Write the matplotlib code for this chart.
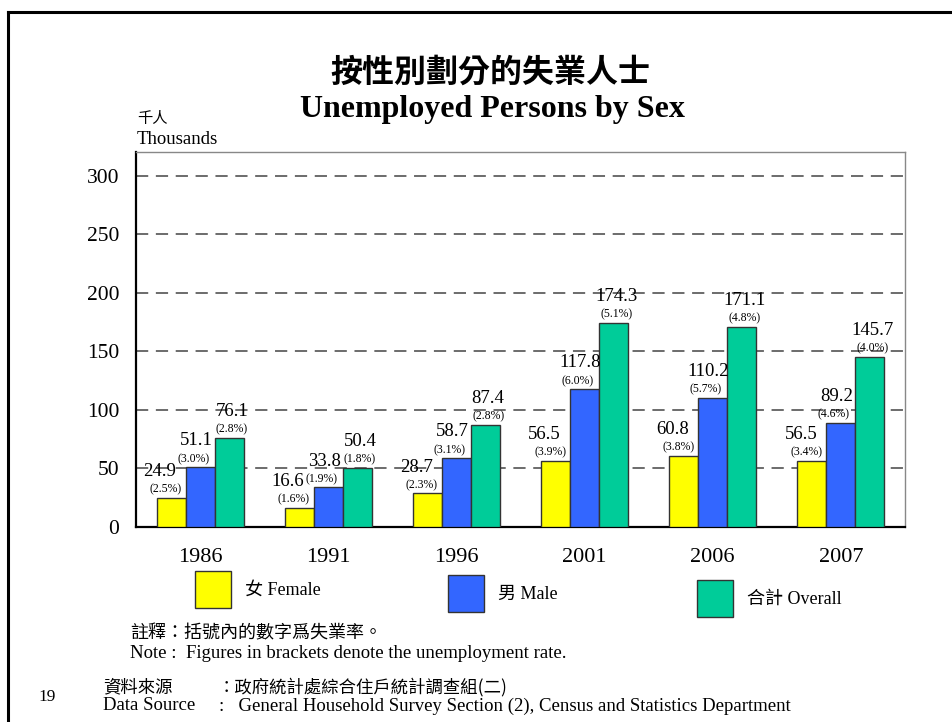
import numpy as np
import matplotlib
matplotlib.use("Agg")
import matplotlib.pyplot as plt
from matplotlib.patches import Rectangle
from matplotlib.lines import Line2D

# data
years = ["1986", "1991", "1996", "2001", "2006", "2007"]
female = [24.9, 16.6, 28.7, 56.5, 60.8, 56.5]
male = [51.1, 33.8, 58.7, 117.8, 110.2, 89.2]
overall = [76.1, 50.4, 87.4, 174.3, 171.1, 145.7]
female_rate = ["2.5", "1.6", "2.3", "3.9", "3.8", "3.4"]
male_rate = ["3.0", "1.9", "3.1", "6.0", "5.7", "4.6"]
overall_rate = ["2.8", "1.8", "2.8", "5.1", "4.8", "4.0"]
yticks = [0, 50, 100, 150, 200, 250, 300]

SERIF = ["Liberation Serif", "Noto Sans CJK TC", "DejaVu Serif"]
CJK = ["Noto Sans CJK TC", "Liberation Serif"]
plt.rcParams["font.family"] = SERIF

colors = ["#FFFF00", "#3366FF", "#00CC99"]

fig = plt.figure(figsize=(9.53, 7.22), dpi=100)
ax = fig.add_axes([0.1427, 0.2701, 0.8069, 0.5194])

x = np.arange(len(years))
w = 0.226
# (values, rates, bar offset, value-label dx, rate-label dx) - dx in points
series = [(female, female_rate, -w, -8, -4),
          (male, male_rate, 0, -3, -5),
          (overall, overall_rate, w, 2, 2)]
for i, (vals, rates, off, dxv, dxr) in enumerate(series):
    bars = ax.bar(x + off, vals, width=w, color=colors[i], edgecolor="#333333",
                  linewidth=1, zorder=3)
    for b, v, r in zip(bars, vals, rates):
        cx = b.get_x() + b.get_width() / 2
        ax.annotate(f"({r}%)", (cx, v), xytext=(dxr, 6), textcoords="offset points",
                    ha="center", va="center", fontsize=8.5, zorder=4)
        ax.annotate(f"{v:.1f}", (cx, v), xytext=(dxv, 19), textcoords="offset points",
                    ha="center", va="center", fontsize=13.5, zorder=4)

ax.set_xlim(-0.5, len(years) - 0.5)
ax.set_ylim(0, 320.5)
ax.set_yticks(yticks)
ax.set_xticks(x)
ax.set_xticklabels(years, fontsize=16)
ax.tick_params(axis="y", length=0, pad=12, labelsize=15.5)
ax.tick_params(axis="x", length=0, pad=15)

for yv in yticks[1:]:
    ln = ax.axhline(yv, color="#444444", linewidth=1.1, zorder=1)
    ln.set_dashes((8, 5))

for s in ["left", "bottom"]:
    ax.spines[s].set_color("black")
    ax.spines[s].set_linewidth(1.6)
for s in ["top", "right"]:
    ax.spines[s].set_color("#888888")
    ax.spines[s].set_linewidth(1)

# titles
fig.text(0.515, 0.9, "按性別劃分的失業人士", family=CJK, fontsize=23,
         fontweight="bold", ha="center", va="center")
fig.text(0.517, 0.849, "Unemployed Persons by Sex", fontsize=23,
         fontweight="bold", ha="center", va="center")
fig.text(0.1437, 0.836, "千人", family=CJK, fontsize=11, va="center")
fig.text(0.1437, 0.807, "Thousands", fontsize=13.5, va="center")

# legend
labels = ["女 Female", "男 Male", "合計 Overall"]
leg_pos = [(195, 571), (448, 575), (697, 580)]
W, H = 953, 722
for (lx, ly), c, lab in zip(leg_pos, colors, labels):
    fig.patches.append(Rectangle((lx / W, 1 - (ly + 37) / H), 36 / W, 37 / H,
                                 transform=fig.transFigure, facecolor=c,
                                 edgecolor="#333333", linewidth=1))
    fig.text((lx + 50) / W, 1 - (ly + 19) / H, lab, fontsize=13, va="center")

# notes
fig.text(130 / W, 1 - 633 / H, "註釋：括號內的數字爲失業率。", family=CJK, fontsize=13, va="center")
fig.text(130 / W, 1 - 654 / H, "Note :  Figures in brackets denote the unemployment rate.",
         fontsize=13.5, va="center")
fig.text(103 / W, 1 - 687 / H, "資料來源", family=CJK, fontsize=12.5, va="center")
fig.text(218 / W, 1 - 687 / H, "：政府統計處綜合住戶統計調查組(二)", family=CJK, fontsize=12.5, va="center")
fig.text(103 / W, 1 - 706 / H, "Data Source", fontsize=13.5, va="center")
fig.text(219 / W, 1 - 706 / H, ":   General Household Survey Section (2), Census and Statistics Department",
         fontsize=13.5, va="center")
fig.text(38 / W, 1 - 697 / H, "19", fontsize=12.5, va="center")

# page frame
fig.lines.append(Line2D([8 / W, 1], [1 - 12 / H, 1 - 12 / H], transform=fig.transFigure,
                        color="black", linewidth=2.2))
fig.lines.append(Line2D([8 / W, 8 / W], [0, 1 - 12 / H], transform=fig.transFigure,
                        color="black", linewidth=2.2))

fig.savefig("out.png", dpi=100)
